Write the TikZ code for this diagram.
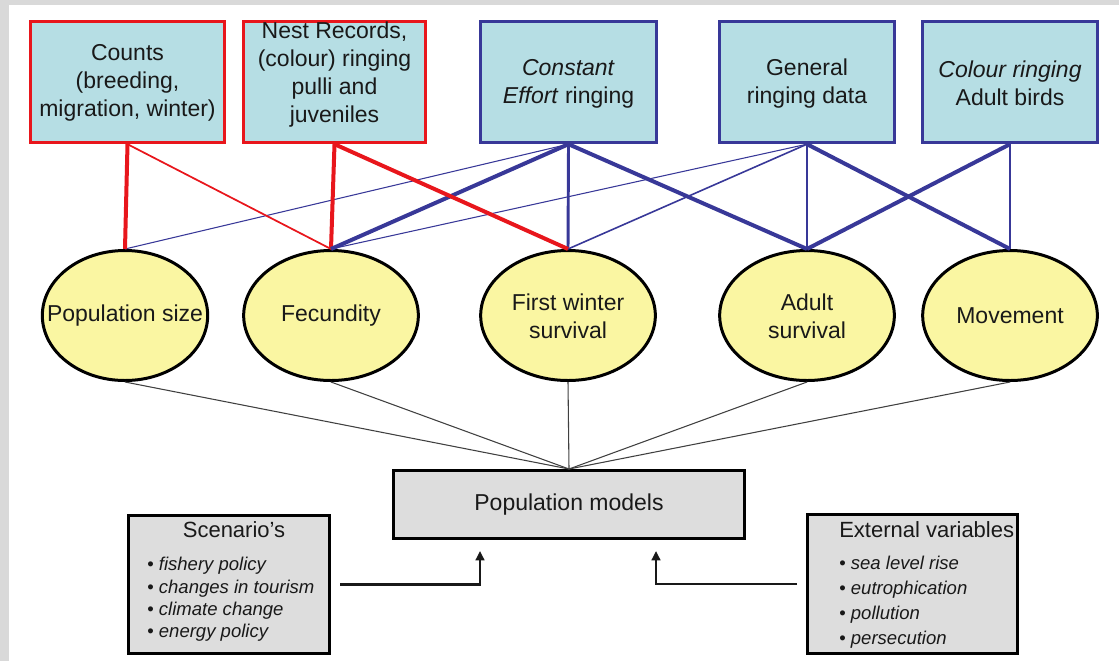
\documentclass[tikz,border=0pt]{standalone}
\usepackage{fontspec}
\setmainfont{Liberation Sans}
\usetikzlibrary{shapes.geometric,arrows.meta}
\definecolor{boxblue}{RGB}{182,222,228}
\definecolor{redline}{RGB}{232,22,28}
\definecolor{blueline}{RGB}{56,56,152}
\definecolor{ellfill}{RGB}{250,246,162}
\definecolor{greyfill}{RGB}{221,221,221}
\definecolor{framegrey}{RGB}{217,217,217}
\begin{document}
\begin{tikzpicture}[x=0.75pt,y=-0.75pt,
  bigfont/.style={font=\fontsize{17.25}{21}\selectfont},
  srcbox/.style={rectangle, line width=2.25pt, fill=boxblue, minimum height=91pt, inner sep=0pt, align=center, bigfont, text=black!90},
  srcred/.style={srcbox, draw=redline},
  srcblue/.style={srcbox, draw=blueline},
  boxtext/.style={align=center, bigfont, inner sep=0pt, text=black!90},
  param/.style={ellipse, draw=black, line width=2.25pt, fill=ellfill, minimum width=131pt, minimum height=97.5pt, inner sep=0pt},
  rthick/.style={draw=redline, line width=3pt},
  rthin/.style={draw=redline, line width=1.3pt},
  bthick/.style={draw=blueline, line width=3pt},
  bmed/.style={draw=blueline, line width=2.2pt},
  bthin/.style={draw=blueline, line width=0.8pt},
  bthinb/.style={draw=blueline, line width=1.2pt},
  conv/.style={draw=black!75, line width=0.8pt},
  greybox/.style={rectangle, draw=black, line width=2.25pt, fill=greyfill, inner sep=0pt},
  titlefont/.style={font=\fontsize{16.5}{20}\selectfont, inner sep=0pt, text=black!90},
  feed/.style={draw=black!90, line width=2pt, -{Triangle[length=7pt,width=6.5pt]}}
]
\useasboundingbox (0,0) rectangle (1119,661);
\fill[framegrey] (0,0) rectangle (9,661);
\fill[framegrey] (0,0) rectangle (1119,5);

% source boxes
\node[srcred, minimum width=145.5pt] (counts) at (127.5,82) {};
\node[boxtext] (countstext) at (127.5,83) {Counts\\(breeding,\\migration, winter)};
\node[srcred, minimum width=137pt] (nest) at (334.5,82) {};
\node[boxtext] (nesttext) at (334.5,75) {Nest Records,\\(colour) ringing\\pulli and\\juveniles};
\node[srcblue, minimum width=132pt] (const) at (568.5,82) {};
\node[boxtext] (consttext) at (568.5,83.5) {\textit{Constant}\\\textit{Effort} ringing};
\node[srcblue, minimum width=131.5pt] (gen) at (807,82) {};
\node[boxtext] (gentext) at (807,83.5) {General\\ringing data};
\node[srcblue, minimum width=131.5pt] (col) at (1010,82) {};
\node[boxtext] (coltext) at (1010,83.5) {\textit{Colour ringing}\\Adult birds};

% parameters
\node[param, minimum width=124pt] (pop) at (125,315.5) {};
\node[boxtext] (poptext) at (125,316) {Population size};
\node[param] (fec) at (331,315.5) {};
\node[boxtext] (fectext) at (331,316) {Fecundity};
\node[param] (fw) at (568,315.5) {};
\node[boxtext] (fwtext) at (568,316) {First winter\\survival};
\node[param] (adult) at (807,315.5) {};
\node[boxtext] (adulttext) at (807,316) {Adult\\survival};
\node[param] (mov) at (1010,315.5) {};
\node[boxtext] (movtext) at (1010,316) {Movement};

% population models
\node[greybox, minimum width=263pt, minimum height=51pt, bigfont, text=black!90] (popm) at (569,504.5) {Population models};

% data links
\draw[bthin] (const.south) -- (pop.north);
\draw[bthin] (gen.south) -- (fec.north);
\draw[bthinb] (gen.south) -- (fw.north);
\draw[rthin] (counts.south) -- (fec.north);
\draw[rthick] (counts.south) -- (pop.north);
\draw[rthick] (nest.south) -- (fec.north);
\draw[bthick] (const.south) -- (fec.north);
\draw[bmed] (const.south) -- (fw.north);
\draw[rthick] (nest.south) -- (fw.north);
\draw[bthick] (const.south) -- (adult.north);
\draw[bthinb] (gen.south) -- (adult.north);
\draw[bthick] (gen.south) -- (mov.north);
\draw[bthick] (col.south) -- (adult.north);
\draw[bthinb] (col.south) -- (mov.north);

% convergence to model
\draw[conv] (pop.south) -- (popm.north);
\draw[conv] (fec.south) -- (popm.north);
\draw[conv] (fw.south) -- (popm.north);
\draw[conv] (adult.south) -- (popm.north);
\draw[conv] (mov.south) -- (popm.north);

% scenario box
\node[greybox, minimum width=151pt, minimum height=103.5pt] (scen) at (229,584.5) {};
\node[titlefont] (scentitle) at (234,530) {Scenario’s};
\node[anchor=west, align=left, inner sep=0pt, text=black!90, font=\fontsize{13.9}{16.7}\selectfont] (scenlist) at (147,599.5)
  {• \textit{fishery policy}\\• \textit{changes in tourism}\\• \textit{climate change}\\• \textit{energy policy}};

% external box
\node[greybox, minimum width=157.5pt, minimum height=104.25pt] (ext) at (912.5,584) {};
\node[titlefont, anchor=west] (exttitle) at (839,530) {External variables};
\node[anchor=west, align=left, inner sep=0pt, text=black!90, font=\fontsize{13.9}{18.75}\selectfont] (extlist) at (839,602)
  {• \textit{sea level rise}\\• \textit{eutrophication}\\• \textit{pollution}\\• \textit{persecution}};

% feed arrows
\coordinate (tipL) at (480,551);
\coordinate (tipR) at (656,551);
\draw[feed] ([xshift=6.75pt]scen.east) -| (tipL);
\draw[feed] ([xshift=-6.75pt]ext.west) -| (tipR);
\end{tikzpicture}
\end{document}
